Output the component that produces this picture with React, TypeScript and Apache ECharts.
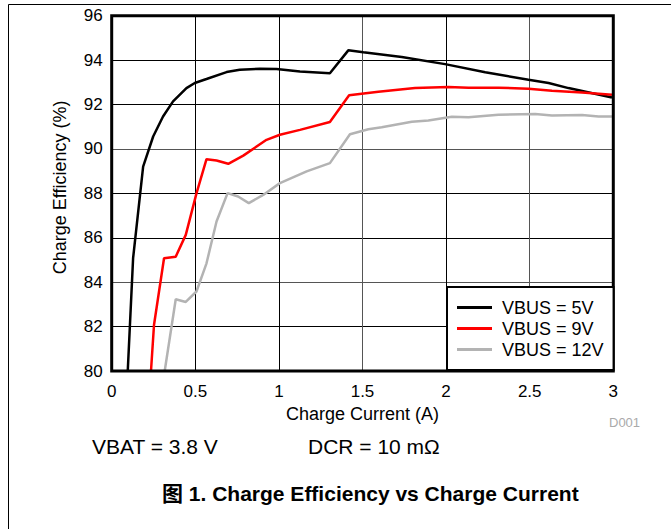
import React, { useEffect, useRef } from "react";
import * as echarts from "echarts";

const FONT = '"Liberation Sans", Arial, "Noto Sans CJK SC", sans-serif';

const seriesNames = ["VBUS = 5V", "VBUS = 9V", "VBUS = 12V"];
const seriesColors = ["#000000", "#ff0000", "#b3b3b3"];

const current5V = [0.096, 0.128, 0.188, 0.248, 0.307, 0.367, 0.447, 0.497, 0.567, 0.687, 0.766, 0.886, 0.986, 1.126, 1.305, 1.415, 1.505, 1.735, 1.994, 2.234, 2.493, 2.613, 2.732, 2.992];
const eff5V = [80, 85.08, 89.2, 90.56, 91.46, 92.14, 92.74, 92.97, 93.15, 93.46, 93.57, 93.61, 93.6, 93.49, 93.41, 94.44, 94.35, 94.14, 93.82, 93.45, 93.12, 92.97, 92.74, 92.32];

const current9V = [0.235, 0.253, 0.313, 0.383, 0.443, 0.507, 0.567, 0.627, 0.697, 0.787, 0.926, 1.006, 1.126, 1.305, 1.42, 1.595, 1.814, 2.014, 2.134, 2.313, 2.493, 2.633, 2.813, 2.992];
const eff9V = [80, 82.07, 85.08, 85.15, 86.13, 88.0, 89.54, 89.48, 89.33, 89.7, 90.41, 90.64, 90.86, 91.21, 92.42, 92.58, 92.74, 92.79, 92.76, 92.76, 92.71, 92.62, 92.54, 92.44];

const current12V = [0.317, 0.383, 0.443, 0.507, 0.567, 0.627, 0.693, 0.756, 0.82, 0.906, 1.006, 1.166, 1.305, 1.425, 1.535, 1.615, 1.795, 1.894, 2.034, 2.134, 2.313, 2.533, 2.633, 2.813, 2.912, 2.992];
const eff12V = [80, 83.23, 83.11, 83.58, 84.85, 86.73, 88.01, 87.86, 87.56, 87.93, 88.46, 88.99, 89.36, 90.66, 90.89, 90.98, 91.22, 91.28, 91.45, 91.43, 91.54, 91.57, 91.51, 91.53, 91.46, 91.46];

const xCurrents = [current5V, current9V, current12V];
const yEffs = [eff5V, eff9V, eff12V];

const xAxisTitle = "Charge Current (A)";
const yAxisTitle = "Charge Efficiency (%)";
const noteVbat = "VBAT = 3.8 V";
const noteDcr = "DCR = 10 mΩ";
const docId = "D001";
const caption = "图 1. Charge Efficiency vs Charge Current";

const xGridColors = ["#000", "#000", "#000", "#555", "#000", "#555", "#000"];
const yGridColors = ["#000", "#000", "#555", "#000", "#000", "#555", "#000", "#000", "#000"];

export default function App() {
  const ref = useRef<HTMLDivElement>(null);
  useEffect(() => {
    if (!ref.current) return;
    const chart = echarts.init(ref.current, undefined, { renderer: "svg" });
    const series = seriesNames.map((name, i) => ({
      name,
      type: "line",
      data: xCurrents[i].map((x, j) => [x, yEffs[i][j]]),
      showSymbol: false,
      symbol: "none",
      clip: true,
      lineStyle: { color: seriesColors[i], width: 2.5 },
      itemStyle: { color: seriesColors[i] },
    }));
    const txt = (text: string, x: number, y: number, size: number, extra: any = {}) => ({
      type: "text",
      x,
      y,
      z: 10,
      style: {
        text,
        fontSize: size,
        fontFamily: FONT,
        fill: "#000",
        textVerticalAlign: "middle",
        verticalAlign: "middle",
        ...extra,
      },
    });
    chart.setOption({
      animation: false,
      backgroundColor: "#fff",
      textStyle: { fontFamily: FONT },
      grid: {
        left: 111.7,
        right: 57.7,
        top: 15.7,
        bottom: 158,
        show: true,
        borderColor: "#000",
        borderWidth: 3,
        backgroundColor: "transparent",
        z: 5,
      },
      xAxis: {
        type: "value",
        min: 0,
        max: 3,
        interval: 0.5,
        name: xAxisTitle,
        nameLocation: "middle",
        nameGap: 34,
        nameTextStyle: { fontSize: 18, color: "#000", fontFamily: FONT },
        axisLine: { show: false },
        axisTick: { show: false },
        axisLabel: { fontSize: 17, color: "#000", margin: 12, fontFamily: FONT },
        splitLine: { show: true, lineStyle: { color: xGridColors, width: 1 } },
      },
      yAxis: {
        type: "value",
        min: 80,
        max: 96,
        interval: 2,
        name: yAxisTitle,
        nameLocation: "middle",
        nameGap: 43,
        nameTextStyle: { fontSize: 18, color: "#000", fontFamily: FONT, padding: [0, 0, 0, 12] },
        axisLine: { show: false },
        axisTick: { show: false },
        axisLabel: { fontSize: 17, color: "#000", margin: 9, fontFamily: FONT },
        splitLine: { show: true, lineStyle: { color: yGridColors, width: 1 } },
      },
      legend: {
        data: seriesNames.map((n, i) => ({ name: n, itemStyle: { color: seriesColors[i] } })),
        orient: "vertical",
        left: 447,
        top: 287,
        padding: [10, 10, 10, 10],
        backgroundColor: "#fff",
        borderColor: "#000",
        borderWidth: 2,
        borderRadius: 0,
        icon: "rect",
        itemWidth: 35,
        itemHeight: 3,
        itemGap: 0,
        z: 20,
        selectedMode: false,
        textStyle: { fontSize: 18, color: "#000", lineHeight: 21, padding: [0, 0, 0, 5], fontFamily: FONT },
      },
      graphic: [
        { type: "line", z: 30, shape: { x1: 8.5, y1: 4.5, x2: 671, y2: 4.5 }, style: { stroke: "#000", lineWidth: 1 } },
        { type: "line", z: 30, shape: { x1: 8.5, y1: 4.5, x2: 8.5, y2: 529 }, style: { stroke: "#000", lineWidth: 1 } },
        txt(noteVbat, 92, 446, 21),
        txt(noteDcr, 308, 446, 21),
        txt(docId, 609, 422, 13, { fill: "#aaaaaa" }),
        txt(caption, 162, 493, 21, { fontWeight: "bold" }),
      ],
      series,
    });
    return () => chart.dispose();
  }, []);
  return <div ref={ref} style={{ position: "absolute", left: 0, top: 0, width: 671, height: 529 }} />;
}
